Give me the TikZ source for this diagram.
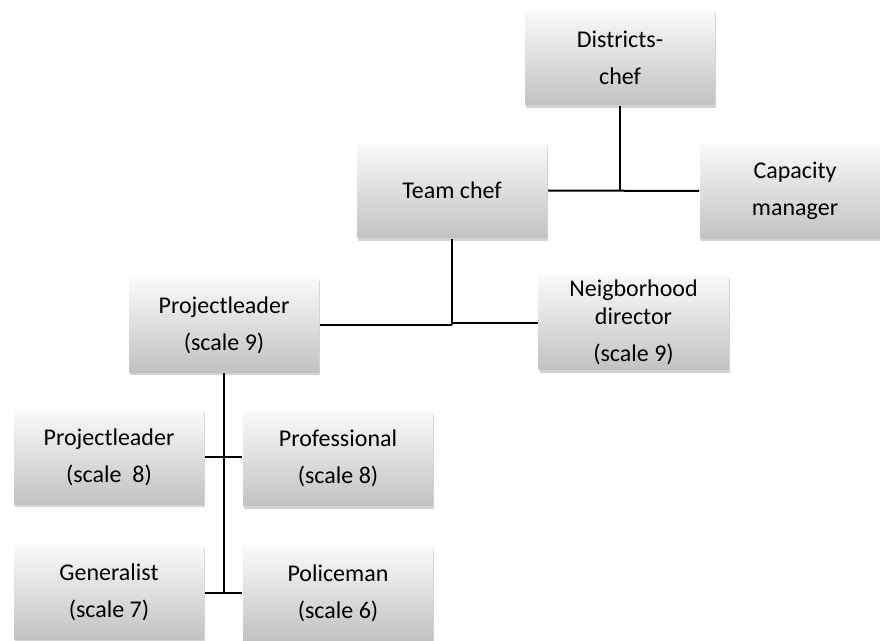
\documentclass[tikz,border=0pt]{standalone}
\usepackage{fontspec}
\setmainfont{Carlito}
\usetikzlibrary{calc,shadows}

\begin{document}
\begin{tikzpicture}[x=0.75pt,y=-0.75pt,line width=1.5pt,
box/.style={rectangle, minimum width=142.5pt, minimum height=71pt, inner sep=0pt,
top color=gray!4, bottom color=gray!48,
drop shadow={shadow xshift=1pt, shadow yshift=-2.2pt, opacity=0.35},
align=center, font=\fontsize{18}{27.75}\selectfont}]
\useasboundingbox (0,0) rectangle (880,641);
\node[box] (DC) at (620,57.5) {Districts-\\chef};
\node[box] (TC) at (452,190.5) {Team chef};
\node[box] (CM) at (795,191) {Capacity\\manager};
\node[box] (PL9) at (224,325) {Projectleader\\(scale 9)};
\node[box] (NB) at (633.5,322.5) {Neigborhood\\[-7pt]director\\(scale 9)};
\node[box] (PL8) at (109,457) {Projectleader\\(scale\ \ 8)};
\node[box] (PR) at (338,458.5) {Professional\\(scale 8)};
\node[box] (GE) at (109,592.5) {Generalist\\(scale 7)};
\node[box] (PO) at (338,593) {Policeman\\(scale 6)};

\draw (DC.south) -- (DC.south |- TC.east);
\draw (TC.east) -- (CM.west);

\draw (TC.south) -- (TC.south |- PL9.east);
\draw (PL9.east) -- (PL9.east -| TC.south);
\draw (TC.south |- NB.west) -- (NB.west);

\draw (PL9.south) -- (PL9.south |- GE.east);
\draw (PL8.east) -- (PL8.east -| PR.west);
\draw (GE.east) -- (GE.east -| PO.west);
\end{tikzpicture}
\end{document}
